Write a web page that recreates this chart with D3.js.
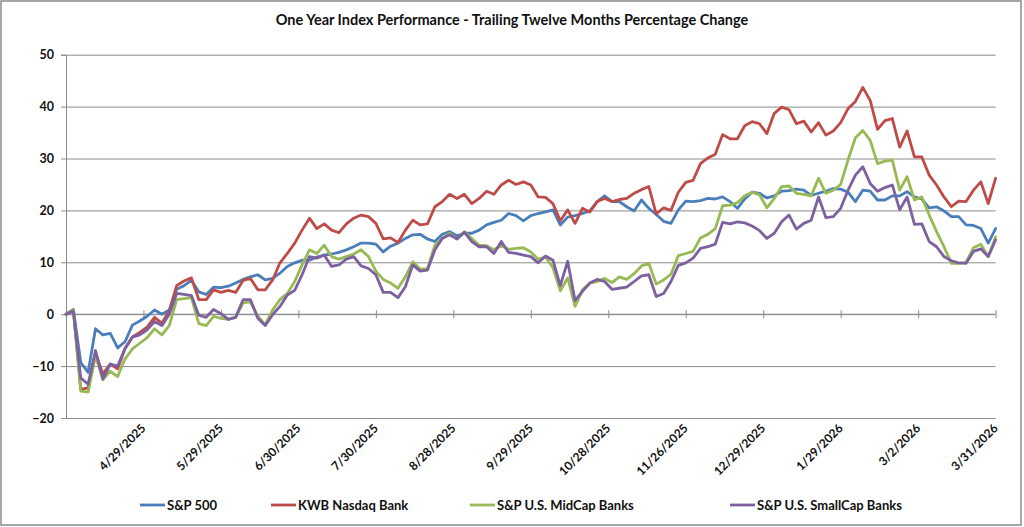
<!DOCTYPE html>
<html>
<head>
<meta charset="utf-8">
<script src="https://cdn.jsdelivr.net/npm/d3@7/dist/d3.min.js"></script>
<style>
  body { margin: 0; background: #fff; }
  svg { display: block; font-family: Lato, "Open Sans", sans-serif; }
</style>
</head>
<body>
<div id="chart"></div>
<script>
// Trailing twelve months % change, sampled every other trading day from 3/31/2025
const tickLabels = ["4/29/2025", "5/29/2025", "6/30/2025", "7/30/2025", "8/28/2025", "9/29/2025",
  "10/28/2025", "11/26/2025", "12/29/2025", "1/29/2026", "3/2/2026", "3/31/2026"];
// trading day of each date label
const tickDays = [21, 42, 63, 84, 105, 126, 147, 168, 189, 210, 231, 252];
const daysPerSample = 2;

const seriesNames = ["S&P 500", "KWB Nasdaq Bank", "S&P U.S. MidCap Banks", "S&P U.S. SmallCap Banks"];

const sp500 = [0, 0.9, -9.3, -11.2, -2.8, -4, -3.7, -6.5, -5.3, -2.1, -1.3, -0.4, 0.8, 0, 0.8, 4.8, 5.5, 6.5, 4.3, 3.8,
  5.2, 5.1, 5.4, 6, 6.7, 7.2, 7.6, 6.6, 6.9, 7.9, 9.2, 9.9, 10.4, 10.4, 11, 11.4, 11.6, 11.9, 12.4, 13,
  13.7, 13.7, 13.5, 12, 13.1, 13.7, 14.6, 15.3, 15.4, 14.5, 14, 15.4, 15.9, 15.1, 15.6, 15.6, 16.2, 17.2, 17.7, 18.1,
  19.4, 19, 18, 19, 19.4, 19.7, 20.1, 17.2, 18.7, 19, 19.4, 19.9, 21.7, 22.8, 21.7, 21.7, 20.7, 19.9, 22, 20.4,
  19.2, 17.9, 17.5, 20.1, 21.8, 21.7, 21.9, 22.3, 22.2, 22.6, 21.7, 20.4, 22.2, 23.5, 23.3, 22.4, 22.8, 23.7, 23.8, 24.1,
  23.9, 22.9, 23.3, 23.7, 24.2, 24.1, 23.5, 21.7, 23.9, 23.7, 22, 22, 22.8, 22.8, 23.6, 22.6, 22.2, 20.5, 20.7, 19.9,
  18.8, 18.8, 17.2, 17.1, 16.5, 13.7, 16.5];

const kwbBank = [0, 0.8, -14.5, -14.2, -7.5, -11.5, -9.6, -10.5, -6.6, -4.4, -3.5, -2.5, -0.6, -1.7, 0.6, 5.5, 6.4, 7, 2.8, 2.8,
  4.7, 4.2, 4.6, 4.2, 6.5, 6.9, 4.7, 4.7, 6.6, 9.9, 11.7, 13.7, 16.2, 18.5, 16.5, 17.4, 16.2, 15.7, 17.4, 18.5,
  19.1, 18.8, 17.5, 14.5, 14.7, 13.8, 16.2, 18.1, 17.2, 17.4, 20.7, 21.7, 23.1, 22.3, 23.1, 21.3, 22.3, 23.7, 23.1, 24.9,
  25.8, 25, 25.5, 24.9, 22.6, 22.5, 21.3, 18, 20.1, 17.5, 20.4, 19.7, 21.7, 22.3, 21.7, 22.1, 22.3, 23.3, 24, 24.6,
  19.3, 20.5, 20, 23.5, 25.4, 25.8, 29, 30.1, 30.8, 34.6, 33.8, 33.8, 36.3, 37.1, 36.7, 34.8, 38.7, 39.9, 39.4, 36.7,
  37.2, 35.1, 36.9, 34.5, 35.3, 36.9, 39.6, 41, 43.7, 41.2, 35.6, 37.3, 37.7, 32.2, 35.3, 30.3, 30.3, 26.8, 24.9, 22.6,
  20.7, 21.8, 21.7, 23.9, 25.5, 21.3, 26.2];

const midCapBanks = [0, 0.8, -14.8, -15, -8, -12.6, -11, -12, -8.6, -6.7, -5.6, -4.5, -2.8, -4, -2.2, 2.8, 3, 3.2, -1.8, -2.2,
  -0.4, -0.8, -1, -0.6, 2.2, 2.4, -0.4, -2, 0.8, 2.8, 4, 6.3, 9.5, 12.4, 11.7, 13.3, 11.1, 10.6, 11.1, 11.6,
  12.4, 11.1, 8.3, 6.7, 6, 5, 7.2, 10.1, 8.7, 8.8, 13.3, 14.6, 15.6, 14.5, 15.9, 14.6, 13.3, 13.2, 12.4, 13.2,
  12.5, 12.7, 12.8, 12, 10.6, 11, 9, 4.5, 7, 1.5, 4.7, 6, 6.3, 6.9, 6.1, 7.2, 6.7, 7.8, 9.3, 9.8,
  5.8, 6.6, 7.7, 11.3, 11.7, 12.1, 14.7, 15.4, 16.5, 20.9, 21, 21.5, 22.8, 23.5, 23, 20.5, 22.3, 24.6, 24.7, 23.3,
  23.1, 22.8, 26.2, 23.3, 23.9, 25, 29.7, 34, 35.4, 33.5, 29, 29.5, 29.7, 23.9, 26.5, 22, 22.6, 19.1, 15.9, 13,
  9.8, 9.8, 10, 12.8, 13.5, 11.1, 14.9];

const smallCapBanks = [0, 0.6, -12.3, -13.5, -7, -12.5, -9.6, -10, -6.6, -4.4, -4, -3, -1.4, -2.2, 0, 4, 3.8, 3.6, -0.2, -0.6,
  0.9, 0.1, -1, -0.6, 2.8, 2.8, -0.8, -2.2, -0.1, 1.5, 3.7, 4.6, 7.6, 11.1, 10.8, 11.4, 9.2, 9.5, 10.6, 11.1,
  9.3, 8.8, 7.6, 4.2, 4.2, 3.2, 5.3, 9.5, 8.3, 8.5, 12.4, 14.6, 15.3, 14.5, 15.8, 14, 13, 13, 11.7, 14,
  11.9, 11.7, 11.4, 11.1, 9.9, 11.2, 10.4, 5.5, 10.2, 2.6, 4.4, 6, 6.7, 6.3, 4.8, 5, 5.2, 6.3, 7.4, 7.6,
  3.4, 4, 6.3, 9.4, 9.9, 10.8, 12.7, 13, 13.5, 17.7, 17.4, 17.8, 17.6, 17, 16.1, 14.6, 15.6, 17.8, 19.1, 16.4,
  17.5, 18.1, 22.6, 18.6, 18.8, 20.4, 23.9, 26.8, 28.4, 25.2, 23.7, 24.4, 24.9, 20.1, 22.6, 17.3, 17.4, 14, 13, 11.1,
  10.3, 9.9, 9.8, 12.1, 12.6, 11.1, 14.3];

const yTicks = [-20, -10, 0, 10, 20, 30, 40, 50];

const seriesValues = [sp500, kwbBank, midCapBanks, smallCapBanks];
const colors = ["#4a7ebb", "#be4b48", "#98b954", "#7d60a0"];

// page and plot area
const W = 1024, H = 527;
const plot = {left: 66, right: 995.6, top: 54.7, bottom: 418};

const x = d3.scaleLinear().domain([0, 252]).range([plot.left, plot.right]);
const y = d3.scaleLinear().domain([-20, 50]).range([plot.bottom, plot.top]);

const svg = d3.select("#chart").append("svg")
  .attr("width", W)
  .attr("height", H);

// outer chart frame
svg.append("rect")
  .attr("x", 1).attr("y", 1)
  .attr("width", W - 4).attr("height", H - 3)
  .attr("fill", "#fff")
  .attr("stroke", "#8a8a8a")
  .attr("stroke-width", 1.5);

// title
svg.append("text")
  .attr("x", 512)
  .attr("y", 25)
  .attr("text-anchor", "middle")
  .attr("font-size", 14.5)
  .attr("font-weight", "bold")
  .attr("fill", "#111")
  .text("One Year Index Performance - Trailing Twelve Months Percentage Change");

// horizontal gridlines
svg.append("g")
  .attr("class", "grid")
  .attr("transform", `translate(${plot.left},0)`)
  .call(d3.axisLeft(y).tickValues(yTicks).tickSize(-(plot.right - plot.left)).tickFormat(""))
  .call(g => g.select(".domain").remove())
  .call(g => g.selectAll("line").attr("stroke", "#8c8c8c").attr("stroke-width", 1));

// y axis with small outside ticks
svg.append("g")
  .attr("class", "y-axis")
  .attr("transform", `translate(${plot.left},0)`)
  .call(d3.axisLeft(y).tickValues(yTicks).tickSize(5).tickPadding(7))
  .call(g => g.select(".domain").attr("stroke", "#8c8c8c"))
  .call(g => g.selectAll("line").attr("stroke", "#8c8c8c"))
  .call(g => g.selectAll("text")
    .attr("font-size", 12.5)
    .attr("font-weight", "bold")
    .attr("font-family", "Lato, sans-serif")
    .attr("fill", "#111"));

// x axis sits on the zero line, ticks cross it
svg.append("g")
  .attr("class", "x-axis")
  .attr("transform", `translate(0,${y(0)})`)
  .call(d3.axisBottom(x).tickValues(tickDays).tickSize(4).tickFormat(""))
  .call(g => g.select(".domain").attr("stroke", "#8c8c8c").attr("d", `M${plot.left},0H${plot.right}`))
  .call(g => g.selectAll(".tick line").attr("stroke", "#8c8c8c").attr("y1", -4));

// rotated date labels under the plot
svg.append("g")
  .selectAll("text")
  .data(tickDays)
  .enter()
  .append("text")
  .attr("transform", (d) => `translate(${x(d) + 3},${plot.bottom + 11}) rotate(-45)`)
  .attr("text-anchor", "end")
  .attr("font-size", 12)
  .attr("font-weight", "bold")
  .attr("fill", "#111")
  .text((d, i) => tickLabels[i]);

// the four lines
const line = d3.line()
  .x((d, i) => x(i * daysPerSample))
  .y((d) => y(d));

svg.append("g")
  .selectAll("path")
  .data(seriesValues)
  .enter()
  .append("path")
  .attr("fill", "none")
  .attr("stroke", (d, i) => colors[i])
  .attr("stroke-width", 2.8)
  .attr("stroke-linejoin", "round")
  .attr("stroke-linecap", "round")
  .attr("d", line);

// legend along the bottom
const legendX = [140, 271, 470, 730];
const legendY = 505;
const legend = svg.append("g")
  .selectAll("g")
  .data(seriesNames)
  .enter()
  .append("g")
  .attr("transform", (d, i) => `translate(${legendX[i]},${legendY})`);

legend.append("line")
  .attr("x1", 0).attr("x2", 25)
  .attr("y1", 0).attr("y2", 0)
  .attr("stroke", (d, i) => colors[i])
  .attr("stroke-width", 2.8);

legend.append("text")
  .attr("x", 27)
  .attr("y", 0)
  .attr("dy", "0.35em")
  .attr("font-size", 13)
  .attr("font-weight", "bold")
  .attr("fill", "#111")
  .text((d) => d);
</script>
</body>
</html>
